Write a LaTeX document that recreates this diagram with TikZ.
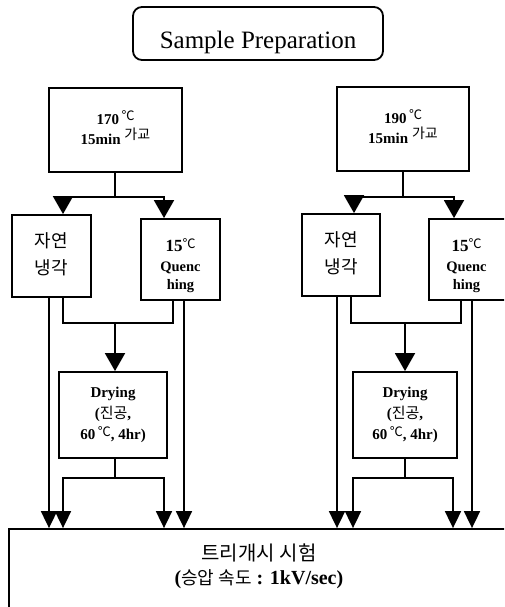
\documentclass[tikz,border=0pt]{standalone}
\usepackage{fontspec}
\setmainfont{Liberation Serif}
\newfontfamily\kr{Noto Sans CJK KR}
\usetikzlibrary{arrows.meta}
\newcommand\krm{\kr\mdseries}
\newcommand\degc[1][4pt]{\raisebox{#1}{\krm\fontsize{13}{13}\selectfont ℃}}
\begin{document}
\begin{tikzpicture}[x=1pt,y=-1pt,
  box/.style={draw, line width=1.8pt, rectangle, inner sep=0pt},
  txt/.style={align=center, inner sep=0pt},
  ln/.style={line width=1.8pt},
  bigtip/.tip={Triangle[width=20pt,length=18pt]},
  smalltip/.tip={Triangle[width=16pt,length=17pt]},
  arr/.style={ln, -bigtip},
  arrtwo/.style={ln, bigtip-bigtip},
  arrs/.style={ln, -smalltip},
  arrstwo/.style={ln, smalltip-smalltip}]
\path[use as bounding box, clip] (0,0) rectangle (504,607);

% title
\node[box, rounded corners=9pt, minimum width=250pt, minimum height=53pt,
  label={[txt, font=\fontsize{25}{30}\selectfont, yshift=-8.5pt]center:Sample Preparation}]
  (title) at (258,33.5) {};

% top process boxes
\node[box, minimum width=133pt, minimum height=84pt,
  label={[txt, font=\fontsize{15}{20}\selectfont\bfseries, yshift=2pt]center:{170\,\degc\\15min \raisebox{5pt}{\krm\fontsize{14}{14}\selectfont 가교}}}]
  (top1) at (115.5,130) {};
\node[box, minimum width=132pt, minimum height=84pt,
  label={[txt, font=\fontsize{15}{20}\selectfont\bfseries, yshift=2pt]center:{190\,\degc\\15min \raisebox{5pt}{\krm\fontsize{14}{14}\selectfont 가교}}}]
  (top2) at (403,129) {};

% cooling boxes
\node[box, minimum width=79pt, minimum height=82pt,
  label={[txt, font=\krm\fontsize{18}{27}\selectfont, yshift=2pt]center:{자연\\냉각}}]
  (nat1) at (51.5,256) {};
\node[box, minimum width=79pt, minimum height=81pt,
  label={[txt, font=\fontsize{14.5}{18}\selectfont\bfseries, yshift=-6pt]center:{\fontsize{17}{18}\selectfont 15\degc[3pt]\\[2pt]Quenc\\hing}}]
  (q1) at (180.5,259.5) {};
\node[box, minimum width=78pt, minimum height=82pt,
  label={[txt, font=\krm\fontsize{18}{27}\selectfont, yshift=2pt]center:{자연\\냉각}}]
  (nat2) at (341,255) {};
\node[box, minimum width=78pt, minimum height=81pt,
  label={[txt, font=\fontsize{14.5}{18}\selectfont\bfseries, yshift=-6pt, xshift=-1.5pt]center:{\fontsize{17}{18}\selectfont 15\degc[3pt]\\[2pt]Quenc\\hing}}]
  (q2) at (468,259.5) {};

% drying boxes
\node[box, minimum width=108pt, minimum height=86pt,
  label={[txt, font=\fontsize{15}{21}\selectfont\bfseries]center:{Drying\\({\krm\fontsize{15}{15}\selectfont 진공},\\60\,\degc[3pt], 4hr)}}]
  (dry1) at (113,415) {};
\node[box, minimum width=104pt, minimum height=86pt,
  label={[txt, font=\fontsize{15}{21}\selectfont\bfseries]center:{Drying\\({\krm\fontsize{15}{15}\selectfont 진공},\\60\,\degc[3pt], 4hr)}}]
  (dry2) at (405,415) {};

% test box
\node[box, minimum width=506pt, minimum height=91pt,
  label={[txt, font=\fontsize{20}{24}\selectfont\bfseries, yshift=8.5pt, xshift=-3pt]center:{{\krm\fontsize{20}{24}\selectfont 트리개시 시험}\\({\krm\fontsize{18}{18}\selectfont 승압 속도} : 1kV/sec)}}]
  (test) at (262,574.5) {};

% ---- left branch connectors
\coordinate (t1) at (115,197);
\coordinate (a1) at (63,197);  \coordinate (b1) at (164,197);
\coordinate (c1) at (63,323);  \coordinate (d1) at (173,323);
\coordinate (m1) at (115,323); \coordinate (s1) at (115,478);
\coordinate (f1) at (63,478);  \coordinate (g1) at (164,478);
\coordinate (v1) at (49,400);  \coordinate (w1) at (184,400);
\draw[ln] (top1.south -| t1) -- (t1);
\draw[arrtwo] (a1 |- nat1.north) -- (a1) -- (b1) -- (b1 |- q1.north);
\draw[ln] (nat1.south -| c1) -- (c1) -- (d1) -- (q1.south -| d1);
\draw[arr] (m1) -- (m1 |- dry1.north);
\draw[ln] (dry1.south -| s1) -- (s1);
\draw[arrstwo] (test.north -| f1) -- (f1) -- (g1) -- (test.north -| g1);
\draw[arrs] (nat1.south -| v1) -- (test.north -| v1);
\draw[arrs] (q1.south -| w1) -- (test.north -| w1);

% ---- right branch connectors
\coordinate (a2) at (354,197); \coordinate (b2) at (454,197);
\coordinate (c2) at (351,323); \coordinate (d2) at (461,323);
\coordinate (m2) at (405,323); \coordinate (s2) at (405,478);
\coordinate (f2) at (353,478); \coordinate (g2) at (453,478);
\coordinate (v2) at (337,400); \coordinate (w2) at (472,400);
\draw[ln] (top2.south) -- (top2.south |- a2);
\draw[arrtwo] (a2 |- nat2.north) -- (a2) -- (b2) -- (b2 |- q2.north);
\draw[ln] (nat2.south -| c2) -- (c2) -- (d2) -- (q2.south -| d2);
\draw[arr] (m2) -- (m2 |- dry2.north);
\draw[ln] (dry2.south -| s2) -- (s2);
\draw[arrstwo] (test.north -| f2) -- (f2) -- (g2) -- (test.north -| g2);
\draw[arrs] (nat2.south -| v2) -- (test.north -| v2);
\draw[arrs] (q2.south -| w2) -- (test.north -| w2);
\end{tikzpicture}
\end{document}
